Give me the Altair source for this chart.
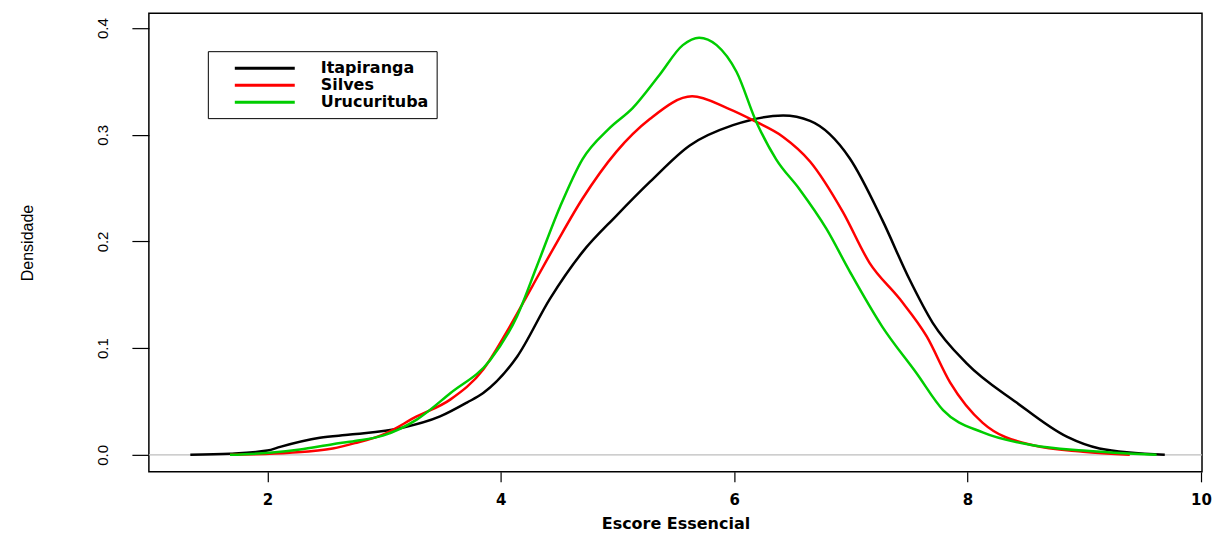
import altair as alt
import pandas as pd

# Itapiranga (black)
ita_x = [1.34, 1.68, 2.0, 2.11, 2.45, 2.71, 3.14, 3.48, 3.71, 3.85, 4.14, 4.42, 4.70, 4.99,
         5.28, 5.62, 5.99, 6.42, 6.65, 6.99, 7.27, 7.50, 7.70, 7.99, 8.42, 8.85, 9.13, 9.69]
ita_y = [0.0, 0.001, 0.004, 0.0075, 0.016, 0.019, 0.025, 0.036, 0.049, 0.058, 0.092, 0.146, 0.19, 0.224,
         0.256, 0.29, 0.309, 0.318, 0.313, 0.278, 0.22, 0.165, 0.124, 0.086, 0.049, 0.017, 0.006, 0.0]

# Silves (red)
sil_x = [1.68, 1.88, 2.19, 2.56, 2.75, 2.99, 3.28, 3.57, 3.85, 4.05, 4.27, 4.48, 4.70, 4.99,
         5.28, 5.64, 5.94, 6.19, 6.42, 6.65, 6.93, 7.16, 7.42, 7.65, 7.85, 8.13, 8.56, 8.99, 9.39]
sil_y = [0.0, 0.0005, 0.002, 0.006, 0.011, 0.019, 0.036, 0.052, 0.08, 0.115, 0.158, 0.199, 0.24, 0.284,
         0.315, 0.336, 0.325, 0.312, 0.298, 0.275, 0.228, 0.18, 0.146, 0.111, 0.068, 0.030, 0.009, 0.003, 0.0]

# Urucurituba (green)
uru_x = [1.68, 2.02, 2.28, 2.56, 2.75, 2.99, 3.28, 3.57, 3.91, 4.14, 4.31, 4.51, 4.70, 4.93, 5.13,
         5.36, 5.56, 5.70, 5.85, 6.02, 6.19, 6.36, 6.56, 6.79, 6.99, 7.27, 7.56, 7.79, 8.13, 8.56, 8.99, 9.62]
uru_y = [0.0, 0.002, 0.005, 0.010, 0.013, 0.018, 0.033, 0.058, 0.089, 0.13, 0.177, 0.233, 0.277, 0.306, 0.325,
         0.356, 0.384, 0.391, 0.384, 0.359, 0.312, 0.277, 0.249, 0.212, 0.172, 0.120, 0.077, 0.042, 0.021, 0.009, 0.004, 0.0]

series = ["Itapiranga", "Silves", "Urucurituba"]
colors = ["#000000", "#FF0000", "#00CD00"]
x_ticks = [2, 4, 6, 8, 10]
y_ticks = [0.0, 0.1, 0.2, 0.3, 0.4]

rows = []
for name, xs, ys in zip(series, [ita_x, sil_x, uru_x], [ita_y, sil_y, uru_y]):
    for i, (a, b) in enumerate(zip(xs, ys)):
        rows.append({"serie": name, "x": a, "y": b, "ord": i})
df = pd.DataFrame(rows)
zero_df = pd.DataFrame({"y": [0.0]})

xscale = alt.Scale(domain=[0.985, 10.009], nice=False, zero=False)
yscale = alt.Scale(domain=[-0.0159, 0.4139], nice=False, zero=False)

zero_line = alt.Chart(zero_df).mark_rule(color="#BEBEBE", strokeWidth=1.2).encode(
    y=alt.Y("y:Q", scale=yscale)
)

lines = alt.Chart(df).mark_line(strokeWidth=2.5, interpolate="monotone").encode(
    x=alt.X("x:Q", scale=xscale, title="Escore Essencial",
            axis=alt.Axis(values=x_ticks, format="d", tickSize=10, labelPadding=11,
                          labelFont="DejaVu Sans", labelFontSize=15, labelFontWeight="bold",
                          titleFont="DejaVu Sans", titleFontSize=16, titleFontWeight="bold",
                          titleY=44, titleBaseline="top")),
    y=alt.Y("y:Q", scale=yscale, title="Densidade",
            axis=alt.Axis(values=y_ticks, format=".1f", tickSize=17, labelPadding=24,
                          labelAngle=-90, labelAlign="center", labelBaseline="alphabetic",
                          labelFont="Liberation Sans", labelFontSize=15,
                          titleFont="Liberation Sans", titleFontSize=16, titleFontWeight="normal",
                          titleAngle=-90, titleX=-116, titleY=229.5,
                          titleAlign="center", titleBaseline="alphabetic")),
    color=alt.Color("serie:N", scale=alt.Scale(domain=series, range=colors),
                    legend=alt.Legend(orient="none", legendX=59, legendY=38, title=None,
                                      symbolType="M-4,0H4", symbolSize=225, symbolStrokeWidth=3,
                                      strokeColor="black", fillColor="white", padding=8,
                                      rowPadding=0, symbolOffset=40, labelOffset=47,
                                      labelFont="DejaVu Sans", labelFontSize=16,
                                      labelFontWeight="bold", labelColor="black")),
    order=alt.Order("ord:Q"),
)

chart = alt.layer(zero_line, lines).properties(
    width=1054, height=459,
    autosize=alt.AutoSizeParams(type="none"),
    padding={"left": 141, "top": 5, "right": 10, "bottom": 63},
    background="white",
).configure_view(
    stroke="black", strokeWidth=1.5
).configure_axis(
    domain=False, grid=False, tickColor="black", tickWidth=1.2,
    labelColor="black", titleColor="black"
)

chart.save("out.html", embed_options={"renderer": "svg", "actions": False})
